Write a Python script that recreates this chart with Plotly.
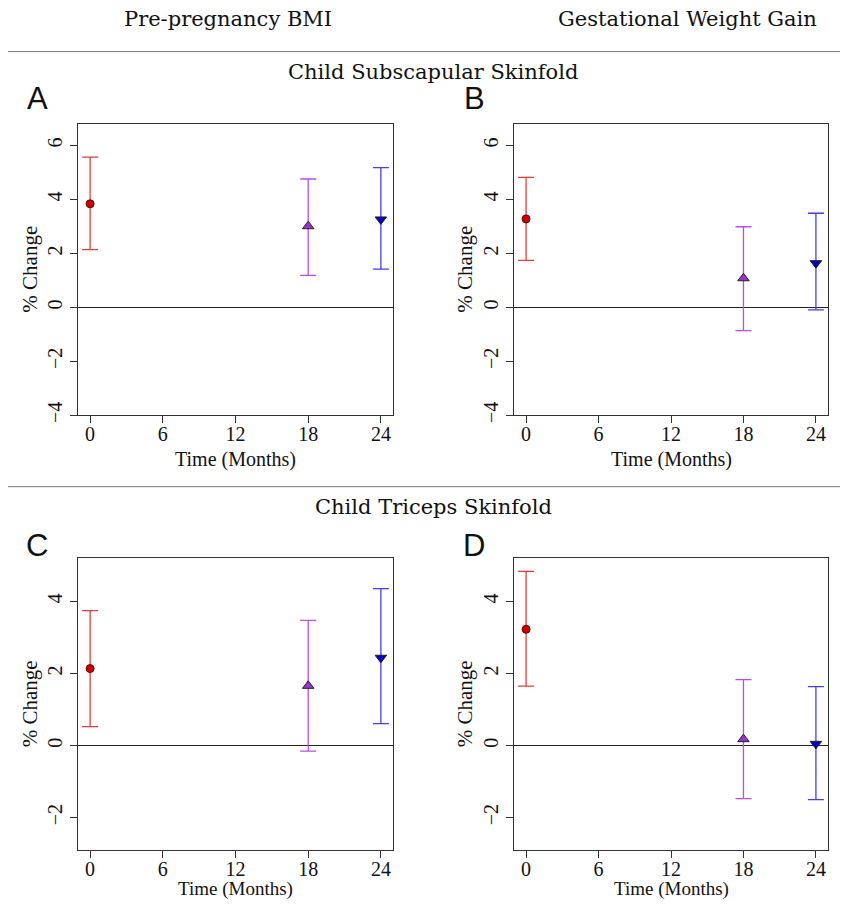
import plotly.graph_objects as go

months = [0, 18, 24]

# Panel A: Subscapular, pre-pregnancy BMI
a_est = [3.84, 3.01, 3.26]
a_lo = [2.14, 1.19, 1.42]
a_hi = [5.57, 4.76, 5.18]
# Panel B: Subscapular, gestational weight gain
b_est = [3.28, 1.08, 1.64]
b_lo = [1.74, -0.86, -0.09]
b_hi = [4.82, 2.99, 3.49]
# Panel C: Triceps, pre-pregnancy BMI
c_est = [2.14, 1.66, 2.44]
c_lo = [0.53, -0.15, 0.61]
c_hi = [3.75, 3.48, 4.36]
# Panel D: Triceps, gestational weight gain
d_est = [3.23, 0.18, 0.05]
d_lo = [1.65, -1.47, -1.50]
d_hi = [4.84, 1.83, 1.64]

x_ticks = [0, 6, 12, 18, 24]
y_ticks_top = [-4, -2, 0, 2, 4, 6]
y_ticks_bot = [-2, 0, 2, 4]

col_headers = ["Pre-pregnancy BMI", "Gestational Weight Gain"]
row_headers = ["Child Subscapular Skinfold", "Child Triceps Skinfold"]
panel_letters = ["A", "B", "C", "D"]

bar_colors = ["#E83A3A", "#B54CF5", "#3F3FFF"]
fill_colors = ["#CC0000", "#9A32CD", "#0000CD"]
line_colors = ["#6A0000", "#222222", "#222222"]
symbols = ["circle", "triangle-up", "triangle-down"]
sizes = [8, 10, 10]

# page has an 8px body margin; keep the figure inside the window
OFF = 8
W, H = 848 - 2 * OFF, 910 - 2 * OFF

def px(x):
    return max(0.0, (x - OFF) / W)

def py(y):
    return 1 - (y - OFF) / H

x_dom = [[px(78), px(393)], [px(514), px(828)]]
y_dom = [[py(419), py(125)], [py(857.7), py(563.3)]]

panels = [(a_est, a_lo, a_hi), (b_est, b_lo, b_hi), (c_est, c_lo, c_hi), (d_est, d_lo, d_hi)]

fig = go.Figure()
serif = "Liberation Serif"
head = "DejaVu Serif"

def note(text, x, y, font, size, angle=0):
    fig.add_annotation(text=text, x=x, y=y, xref="paper", yref="paper",
                       xanchor="center", yanchor="middle", showarrow=False,
                       textangle=angle, font=dict(family=font, size=size, color="#111111"))

for p, (est, lo, hi) in enumerate(panels):
    r, c = divmod(p, 2)
    ax = "" if p == 0 else str(p + 1)
    for i in range(3):
        fig.add_trace(go.Scatter(
            x=[months[i]], y=[est[i]], mode="markers",
            xaxis="x" + ax, yaxis="y" + ax, showlegend=False,
            marker=dict(symbol=symbols[i], size=sizes[i], color=fill_colors[i],
                        line=dict(color=line_colors[i], width=1)),
            error_y=dict(type="data", symmetric=False,
                         array=[hi[i] - est[i]], arrayminus=[est[i] - lo[i]],
                         color=bar_colors[i], thickness=1.3, width=8),
        ))
    yr = [-4, 6.8] if r == 0 else [-2.9, 5.2]
    yt = y_ticks_top if r == 0 else y_ticks_bot
    common = dict(showline=True, mirror=True, linecolor="#333333", linewidth=1,
                  ticks="outside", ticklen=7, tickcolor="#333333", showgrid=False,
                  tickfont=dict(family=serif, size=20, color="#111111"))
    fig.update_layout(**{
        "xaxis" + ax: dict(domain=x_dom[c], range=[-1, 25], tickvals=x_ticks,
                           zeroline=False, anchor="y" + ax, ticklabelstandoff=-6,
                           **common),
        "yaxis" + ax: dict(domain=y_dom[r], range=yr, tickvals=yt, tickangle=-90,
                           zeroline=True, zerolinecolor="#222222", zerolinewidth=1,
                           anchor="x" + ax, **common),
    })
    cx = (x_dom[c][0] + x_dom[c][1]) / 2
    cy = (y_dom[r][0] + y_dom[r][1]) / 2
    if r == 0:
        note("Time (Months)", cx, py(464), serif, 20)
    else:
        note("Time (Months)", cx, py(897), serif, 19)
    note("% Change", px(30 if c == 0 else 465), cy, serif, 21, angle=-90)
    note(panel_letters[p], px(37 if c == 0 else 474), py(99 if r == 0 else 550),
         "Liberation Sans", 31)

note(col_headers[0], px(228), py(19), head, 21)
note(col_headers[1], px(687), py(19), head, 21)
note(row_headers[0], px(433), py(73), head, 21)
note(row_headers[1], px(433), py(512), head, 21)

for yline in [52, 491]:
    fig.add_shape(type="line", xref="paper", yref="paper", x0=px(7), x1=1,
                  y0=py(yline), y1=py(yline), line=dict(color="#777777", width=1))

fig.update_layout(width=W, height=H, margin=dict(l=0, r=0, t=0, b=0),
                  paper_bgcolor="white", plot_bgcolor="white")

fig.write_html("out.html")
